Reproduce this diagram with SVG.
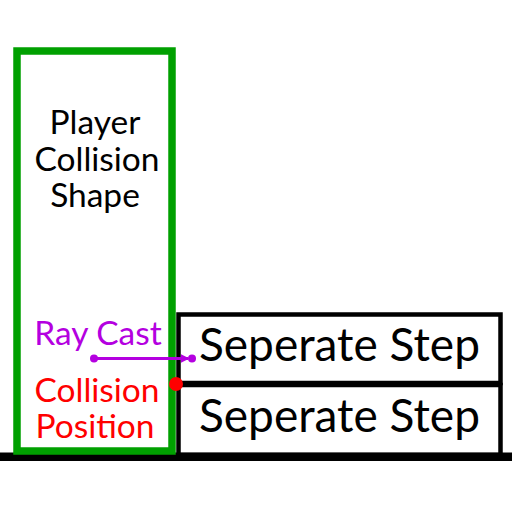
<svg xmlns="http://www.w3.org/2000/svg" width="512" height="512" viewBox="0 0 512 512">
<style>
text{font-family:Lato,"Liberation Sans",sans-serif;}
.box{fill:#fff;stroke:#000;stroke-width:4.5}
.step{font-size:46px;fill:#000}
.lbl{font-size:33.5px;text-anchor:middle}
</style>
<defs>
<marker id="ah" viewBox="0 0 6 6" refX="5" refY="3" markerWidth="3" markerHeight="3" orient="auto"><path d="M0,0L6,3L0,6z" fill="#b400e0"/></marker>
</defs>
<rect width="512" height="512" fill="#fff"/>
<g id="step-upper"><rect class="box" x="178.5" y="314.5" width="322" height="68.5"/><text class="step" x="199" y="361">Seperate Step</text></g>
<g id="step-lower"><rect class="box" x="178.5" y="385" width="322" height="70"/><text class="step" x="199" y="432">Seperate Step</text></g>
<g id="ground"><rect x="0" y="452.5" width="512" height="8.5" fill="#000"/></g>
<g id="player"><rect x="17" y="51" width="155" height="400" fill="none" stroke="#00a000" stroke-width="7.5"/>
<text class="lbl" fill="#000"><tspan x="95" y="134">Player</tspan><tspan x="97" y="171">Collision</tspan><tspan x="95" y="207">Shape</tspan></text></g>
<g id="raycast-label"><text class="lbl" x="98" y="345" fill="#b400e0">Ray Cast</text></g>
<g id="collision-label"><text class="lbl" fill="#ff0000"><tspan x="97" y="402">Collision</tspan><tspan x="95" y="438">Position</tspan></text></g>
<g id="connectors">
<line x1="94" y1="358.5" x2="188" y2="358.5" stroke="#b400e0" stroke-width="3" marker-end="url(#ah)"/>
<circle cx="94" cy="358.5" r="4" fill="#b400e0"/>
<circle cx="192" cy="358.5" r="4" fill="#b400e0"/>
<circle cx="176" cy="384" r="7" fill="#ff0000"/>
</g>
</svg>
